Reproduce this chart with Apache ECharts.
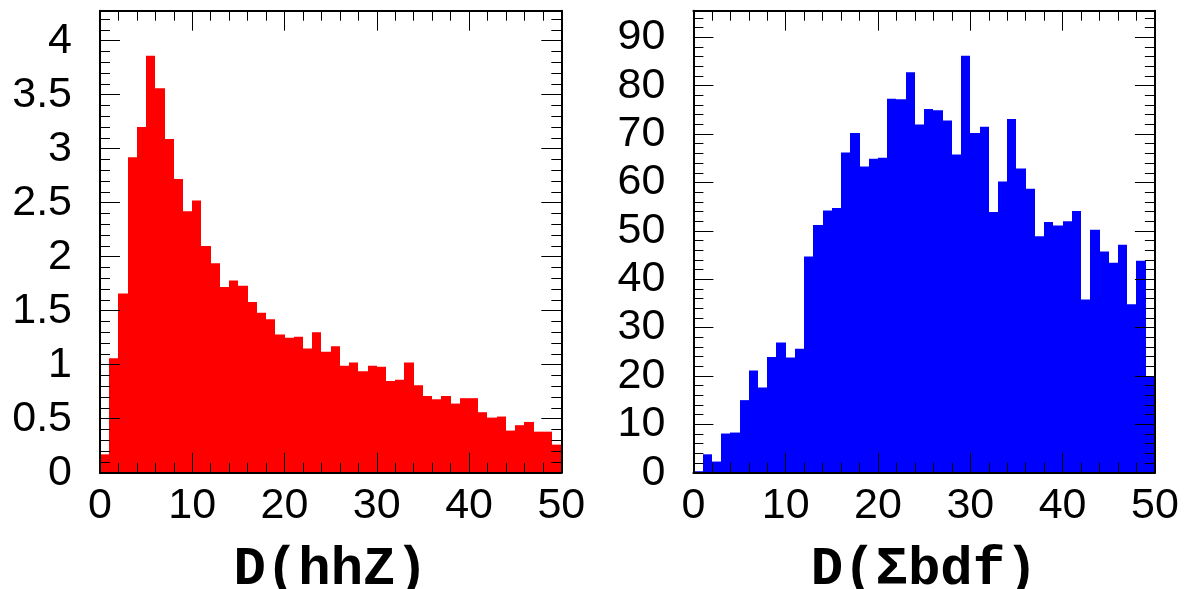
<!DOCTYPE html>
<html>
<head>
<meta charset="utf-8">
<script src="https://cdn.jsdelivr.net/npm/echarts@6/dist/echarts.min.js"></script>
<style>
html,body{margin:0;padding:0;background:#fff;}
#c{width:1184px;height:589px;}
</style>
</head>
<body>
<div id="c"></div>
<script>
// bin edges: 50 bins of width 1 from 0 to 50
const binStarts = Array.from({length: 50}, (_, i) => i);
// left histogram D(hhZ)
const hhZValues = [
  0.17, 1.06, 1.66, 2.92, 3.20, 3.86, 3.56, 3.09, 2.72, 2.42,
  2.52, 2.10, 1.94, 1.72, 1.78, 1.73, 1.58, 1.48, 1.42, 1.28,
  1.25, 1.26, 1.15, 1.30, 1.12, 1.17, 0.99, 1.02, 0.94, 0.99,
  0.98, 0.85, 0.86, 1.02, 0.81, 0.71, 0.68, 0.71, 0.64, 0.69,
  0.69, 0.56, 0.51, 0.52, 0.39, 0.44, 0.47, 0.38, 0.38, 0.26
];
// right histogram D(Σbdf)
const sbdfValues = [
  0.3, 3.8, 2.3, 8.1, 8.3, 15.0, 21.1, 17.6, 23.9, 26.9,
  23.8, 25.6, 44.7, 51.2, 54.2, 54.7, 66.2, 70.2, 63.3, 64.9,
  65.1, 77.3, 77.2, 82.8, 72.0, 75.2, 74.9, 72.8, 65.8, 86.2,
  70.2, 71.5, 53.9, 60.2, 73.1, 62.9, 58.7, 48.9, 51.8, 51.1,
  52.0, 54.1, 35.8, 50.2, 45.7, 43.4, 47.1, 34.8, 43.8, 19.8
];
const xTitles = ['D(hhZ)', 'D(\u03A3bdf)'];
const xRange = [0, 50];
const leftYRange = [0, 4.278];
const rightYRange = [0, 95.5];

const LABEL_FONT = "'Liberation Sans', Arial, sans-serif";
const TITLE_FONT = "'Liberation Mono', 'Courier New', monospace";

function renderItemFactory(color) {
  return function (params, api) {
    const x0 = api.value(0), x1 = api.value(1), v = api.value(2);
    const p0 = api.coord([x0, 0]);
    const p1 = api.coord([x1, v]);
    const xa = Math.round(p0[0]), xb = Math.round(p1[0]);
    return {
      type: 'rect',
      shape: {x: xa, y: p1[1], width: xb - xa, height: p0[1] - p1[1]},
      style: {fill: color}
    };
  };
}

function xAxes(gridIndex, title) {
  const common = {
    type: 'value', gridIndex, min: xRange[0], max: xRange[1], interval: 10, z: 10,
    axisLine: {show: true, onZero: false, lineStyle: {color: '#000', width: 2}},
    axisTick: {show: true, inside: true, length: 20, lineStyle: {color: '#000', width: 1}},
    minorTick: {show: true, splitNumber: 5, length: 10, lineStyle: {color: '#000', width: 1}},
    splitLine: {show: false}, minorSplitLine: {show: false}
  };
  return [
    Object.assign({}, common, {
      position: 'bottom',
      axisLabel: {show: true, margin: 12, color: '#000', fontSize: 43, fontFamily: LABEL_FONT},
      name: title, nameLocation: 'middle', nameGap: 71,
      nameTextStyle: {color: '#000', fontSize: 54, fontWeight: 'bold', fontFamily: TITLE_FONT}
    }),
    Object.assign({}, common, {position: 'top', axisLabel: {show: false}})
  ];
}

function yAxes(gridIndex, range, interval, minorSplit) {
  const common = {
    type: 'value', gridIndex, min: range[0], max: range[1], interval, z: 10,
    axisLine: {show: true, onZero: false, lineStyle: {color: '#000', width: 2}},
    axisTick: {show: true, inside: true, length: 20, lineStyle: {color: '#000', width: 1}},
    minorTick: {show: true, splitNumber: minorSplit, length: 10, lineStyle: {color: '#000', width: 1}},
    splitLine: {show: false}, minorSplitLine: {show: false}
  };
  return [
    Object.assign({}, common, {
      position: 'left',
      axisLabel: {show: true, margin: 28, color: '#000', fontSize: 43, fontFamily: LABEL_FONT, showMaxLabel: false}
    }),
    Object.assign({}, common, {position: 'right', axisLabel: {show: false}})
  ];
}

const chart = echarts.init(document.getElementById('c'), null, {renderer: 'canvas'});
chart.setOption({
  backgroundColor: '#fff',
  animation: false,
  grid: [
    {left: 100, top: 10.7, width: 461.3, height: 462, containLabel: false, outerBoundsMode: 'none'},
    {left: 693.4, top: 10.7, width: 461.5, height: 462, containLabel: false, outerBoundsMode: 'none'}
  ],
  xAxis: [].concat(xAxes(0, xTitles[0]), xAxes(1, xTitles[1])),
  yAxis: [].concat(yAxes(0, leftYRange, 0.5, 5), yAxes(1, rightYRange, 10, 5)),
  series: [
    {
      type: 'custom', xAxisIndex: 0, yAxisIndex: 0,
      renderItem: renderItemFactory('#ff0000'),
      encode: {x: [0, 1], y: 2},
      data: hhZValues.map((v, i) => [binStarts[i], binStarts[i] + 1, v])
    },
    {
      type: 'custom', xAxisIndex: 2, yAxisIndex: 2,
      renderItem: renderItemFactory('#0000ff'),
      encode: {x: [0, 1], y: 2},
      data: sbdfValues.map((v, i) => [binStarts[i], binStarts[i] + 1, v])
    }
  ]
});
</script>
</body>
</html>
